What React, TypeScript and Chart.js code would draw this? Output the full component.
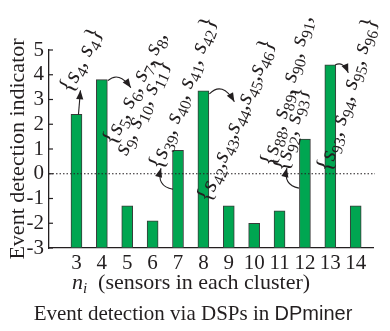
import React, { useEffect, useRef } from "react";
import { Chart, registerables } from "chart.js";

Chart.register(...registerables);

// ---- data ----
const categories = [3, 4, 5, 6, 7, 8, 9, 10, 11, 12, 13, 14];
const indicatorValues = [2.4, 3.8, -1.3, -1.9, 0.95, 3.35, -1.3, -2.0, -1.5, 1.4, 4.4, -1.3];
const yTickMin = -3;
const yTickMax = 5;

// sensor subscripts for annotation sets
const set3a = [4, 4];
const set4a = [5, 6, 7, 8];
const set4b = [9, 10, 11];
const set7a = [39, 40, 41, 42];
const set8a = [42, 43, 44, 45, 46];
const set12a = [88, 89, 90, 91];
const set12b = [92, 93];
const set13a = [93, 94, 95, 96];

const yTitle = "Event detection indicator";
const xTitleMain = "n";
const xTitleSub = "i";
const xTitleRest = "  (sensors in each cluster)";
const mainTitleSerif = "Event detection via DSPs in ";
const mainTitleSans = "DPminer";

const TEXT = "#231f20";
const SERIF = '"Liberation Serif", "Times New Roman", serif';
const SANS = '"Liberation Sans", Arial, sans-serif';
const MAIN = 24;
const SUB = 16;

type Seg = { t: string; kind: "s" | "sub" | "p" };

function segsFor(nums: number[], open: boolean, close: boolean, sep: string, trailing: string): Seg[] {
  const out: Seg[] = [];
  if (open) out.push({ t: "{", kind: "p" });
  nums.forEach((n, i) => {
    out.push({ t: "s", kind: "s" });
    out.push({ t: String(n), kind: "sub" });
    if (i < nums.length - 1) out.push({ t: sep, kind: "p" });
  });
  if (close) out.push({ t: "}", kind: "p" });
  if (trailing) out.push({ t: trailing, kind: "p" });
  return out;
}

function fontFor(kind: Seg["kind"]) {
  if (kind === "s") return `italic ${MAIN}px ${SERIF}`;
  if (kind === "sub") return `${SUB}px ${SERIF}`;
  return `${MAIN}px ${SERIF}`;
}

function drawSegs(ctx: CanvasRenderingContext2D, segs: Seg[], u0: number, v0: number) {
  let u = u0;
  for (const s of segs) {
    ctx.font = fontFor(s.kind);
    ctx.fillText(s.t, u, s.kind === "sub" ? v0 + 5 : v0);
    u += ctx.measureText(s.t).width;
  }
}

type Ann = {
  bar: number;
  bx: number;
  by: number;
  angle: number;
  lines: { segs: Seg[]; du: number; dv: number }[];
  arrow: number[];
};

const annotations: Ann[] = [
  {
    bar: 0, bx: -8, by: -28, angle: -63,
    lines: [{ segs: segsFor(set3a, true, true, ", ", ""), du: 0, dv: 0 }],
    arrow: [2, 0, 3, -12, 4, -24],
  },
  {
    bar: 1, bx: 10, by: 59, angle: -65,
    lines: [
      { segs: segsFor(set4a, true, false, ", ", ","), du: 0, dv: 0 },
      { segs: segsFor(set4b, false, true, ", ", ""), du: -4, dv: 15 },
    ],
    arrow: [6, 1, 17, -9, 29, 8],
  },
  {
    bar: 4, bx: -20, by: 13, angle: -70,
    lines: [{ segs: segsFor(set7a, true, true, ", ", ""), du: 0, dv: 0 }],
    arrow: [-5, 39, -22, 36, -17, 18],
  },
  {
    bar: 5, bx: 3, by: 105, angle: -68,
    lines: [{ segs: segsFor(set8a, true, true, ",", ""), du: 0, dv: 0 }],
    arrow: [6, 3, 19, -10, 31, 11],
  },
  {
    bar: 9, bx: -35, by: 21, angle: -76,
    lines: [
      { segs: segsFor(set12a, true, false, ", ", ","), du: 0, dv: 0 },
      { segs: segsFor(set12b, true, true, ", ", ""), du: -2, dv: 14 },
    ],
    arrow: [-6, 49, -22, 46, -18, 29],
  },
  {
    bar: 10, bx: -4, by: 101, angle: -73,
    lines: [{ segs: segsFor(set13a, true, true, ", ", ""), du: 0, dv: 0 }],
    arrow: [5, 0, 13, -4, 18, 8],
  },
];

function drawArrow(ctx: CanvasRenderingContext2D, sx: number, sy: number, cx: number, cy: number, ex: number, ey: number) {
  ctx.beginPath();
  ctx.moveTo(sx, sy);
  ctx.quadraticCurveTo(cx, cy, ex, ey);
  ctx.stroke();
  const a = Math.atan2(ey - cy, ex - cx);
  const L = 9;
  const W = 3.6;
  const tx = ex, ty = ey;
  const bxp = tx - L * Math.cos(a), byp = ty - L * Math.sin(a);
  ctx.beginPath();
  ctx.moveTo(tx, ty);
  ctx.lineTo(bxp + W * Math.sin(a), byp - W * Math.cos(a));
  ctx.lineTo(bxp - W * Math.sin(a), byp + W * Math.cos(a));
  ctx.closePath();
  ctx.fill();
}

const decorPlugin = {
  id: "decor",
  afterDatasetsDraw(chart: any) {
    const ctx: CanvasRenderingContext2D = chart.ctx;
    const xs = chart.scales.x;
    const ys = chart.scales.y;
    const area = chart.chartArea;
    ctx.save();
    const y0 = ys.getPixelForValue(0);
    ctx.strokeStyle = TEXT;
    ctx.lineWidth = 1.2;
    ctx.setLineDash([1.5, 2]);
    ctx.beginPath();
    ctx.moveTo(area.left, y0);
    ctx.lineTo(area.right + 2, y0);
    ctx.stroke();
    ctx.setLineDash([]);
    ctx.lineWidth = 1.2;
    for (let v = yTickMin; v <= yTickMax; v++) {
      const py = ys.getPixelForValue(v);
      ctx.beginPath();
      ctx.moveTo(area.left, py);
      ctx.lineTo(area.left + 4, py);
      ctx.stroke();
    }
    ctx.fillStyle = TEXT;
    ctx.strokeStyle = TEXT;
    ctx.lineWidth = 1.1;
    for (const an of annotations) {
      const px = xs.getPixelForValue(categories[an.bar]);
      const py = ys.getPixelForValue(indicatorValues[an.bar]);
      const [sx, sy, cx, cy, ex, ey] = an.arrow;
      drawArrow(ctx, px + sx, py + sy, px + cx, py + cy, px + ex, py + ey);
      ctx.save();
      ctx.translate(px + an.bx, py + an.by);
      ctx.rotate((an.angle * Math.PI) / 180);
      ctx.textBaseline = "alphabetic";
      ctx.textAlign = "left";
      ctx.font = `${MAIN}px ${SERIF}`;
      const bw = ctx.measureText("{").width;
      for (const ln of an.lines) {
        drawSegs(ctx, ln.segs, -bw / 2 + ln.du, 6 + ln.dv);
      }
      ctx.restore();
    }
    ctx.restore();
  },
  afterDraw(chart: any) {
    const ctx: CanvasRenderingContext2D = chart.ctx;
    ctx.save();
    ctx.fillStyle = TEXT;
    ctx.textBaseline = "alphabetic";
    ctx.textAlign = "left";
    const fMain = `italic 22px ${SERIF}`;
    const fSub = `italic 15px ${SERIF}`;
    const fRest = `22px ${SERIF}`;
    ctx.font = fMain;
    const w1 = ctx.measureText(xTitleMain).width;
    ctx.font = fSub;
    const w2 = ctx.measureText(xTitleSub).width;
    ctx.font = fRest;
    const w3 = ctx.measureText(xTitleRest).width;
    let x = 191 - (w1 + w2 + w3) / 2;
    const yb = 289;
    ctx.font = fMain;
    ctx.fillText(xTitleMain, x, yb);
    x += w1;
    ctx.font = fSub;
    ctx.fillText(xTitleSub, x, yb + 4);
    x += w2;
    ctx.font = fRest;
    ctx.fillText(xTitleRest, x, yb);
    const fA = `21px ${SERIF}`;
    const fB = `20px ${SANS}`;
    ctx.font = fA;
    const wa = ctx.measureText(mainTitleSerif).width;
    ctx.font = fB;
    const wb = ctx.measureText(mainTitleSans).width;
    let tx = 193 - (wa + wb) / 2;
    ctx.font = fA;
    ctx.fillText(mainTitleSerif, tx, 320);
    tx += wa;
    ctx.font = fB;
    ctx.fillText(mainTitleSans, tx, 320);
    ctx.restore();
  },
};

export default function App() {
  const ref = useRef<HTMLCanvasElement | null>(null);
  useEffect(() => {
    document.body.style.margin = "0";
    if (!ref.current) return;
    const chart = new Chart(ref.current, {
      type: "bar",
      data: {
        datasets: [
          {
            data: categories.map((c, i) => ({ x: c, y: indicatorValues[i] })),
            base: yTickMin,
            backgroundColor: "#00a651",
            borderColor: "#3a3a3a",
            borderWidth: 1,
            borderSkipped: false,
            barThickness: 11,
          } as any,
        ],
      },
      options: {
        animation: false,
        responsive: false,
        layout: { padding: { top: 50, right: 17, bottom: 53, left: 0 } },
        plugins: { legend: { display: false }, tooltip: { enabled: false }, title: { display: false } },
        scales: {
          x: {
            type: "linear",
            min: 2.45,
            max: 14.15,
            afterBuildTicks: (s: any) => {
              s.ticks = categories.map((v) => ({ value: v }));
            },
            afterFit: (s: any) => {
              s.height = 30;
            },
            ticks: {
              autoSkip: false,
              maxRotation: 0,
              padding: 3,
              color: TEXT,
              font: { family: SERIF, size: 21 },
              callback: (v: any) => String(v),
            },
            grid: { display: false, drawTicks: false },
            border: { display: true, color: TEXT, width: 1.3 },
          },
          y: {
            min: yTickMin,
            max: yTickMax,
            afterFit: (s: any) => {
              s.width = 49;
            },
            ticks: {
              stepSize: 1,
              autoSkip: false,
              padding: 5,
              color: TEXT,
              font: { family: SERIF, size: 21 },
            },
            grid: { display: false, drawTicks: false },
            border: { display: true, color: TEXT, width: 1.3 },
            title: {
              display: true,
              text: yTitle,
              color: TEXT,
              font: { family: SERIF, size: 22 },
              padding: { top: 5, bottom: 0 },
            },
          },
        },
      },
      plugins: [decorPlugin],
    } as any);
    return () => chart.destroy();
  }, []);
  return (
    <div style={{ width: 390, height: 331, background: "#fff" }}>
      <canvas ref={ref} width={390} height={331} style={{ display: "block" }} />
    </div>
  );
}
